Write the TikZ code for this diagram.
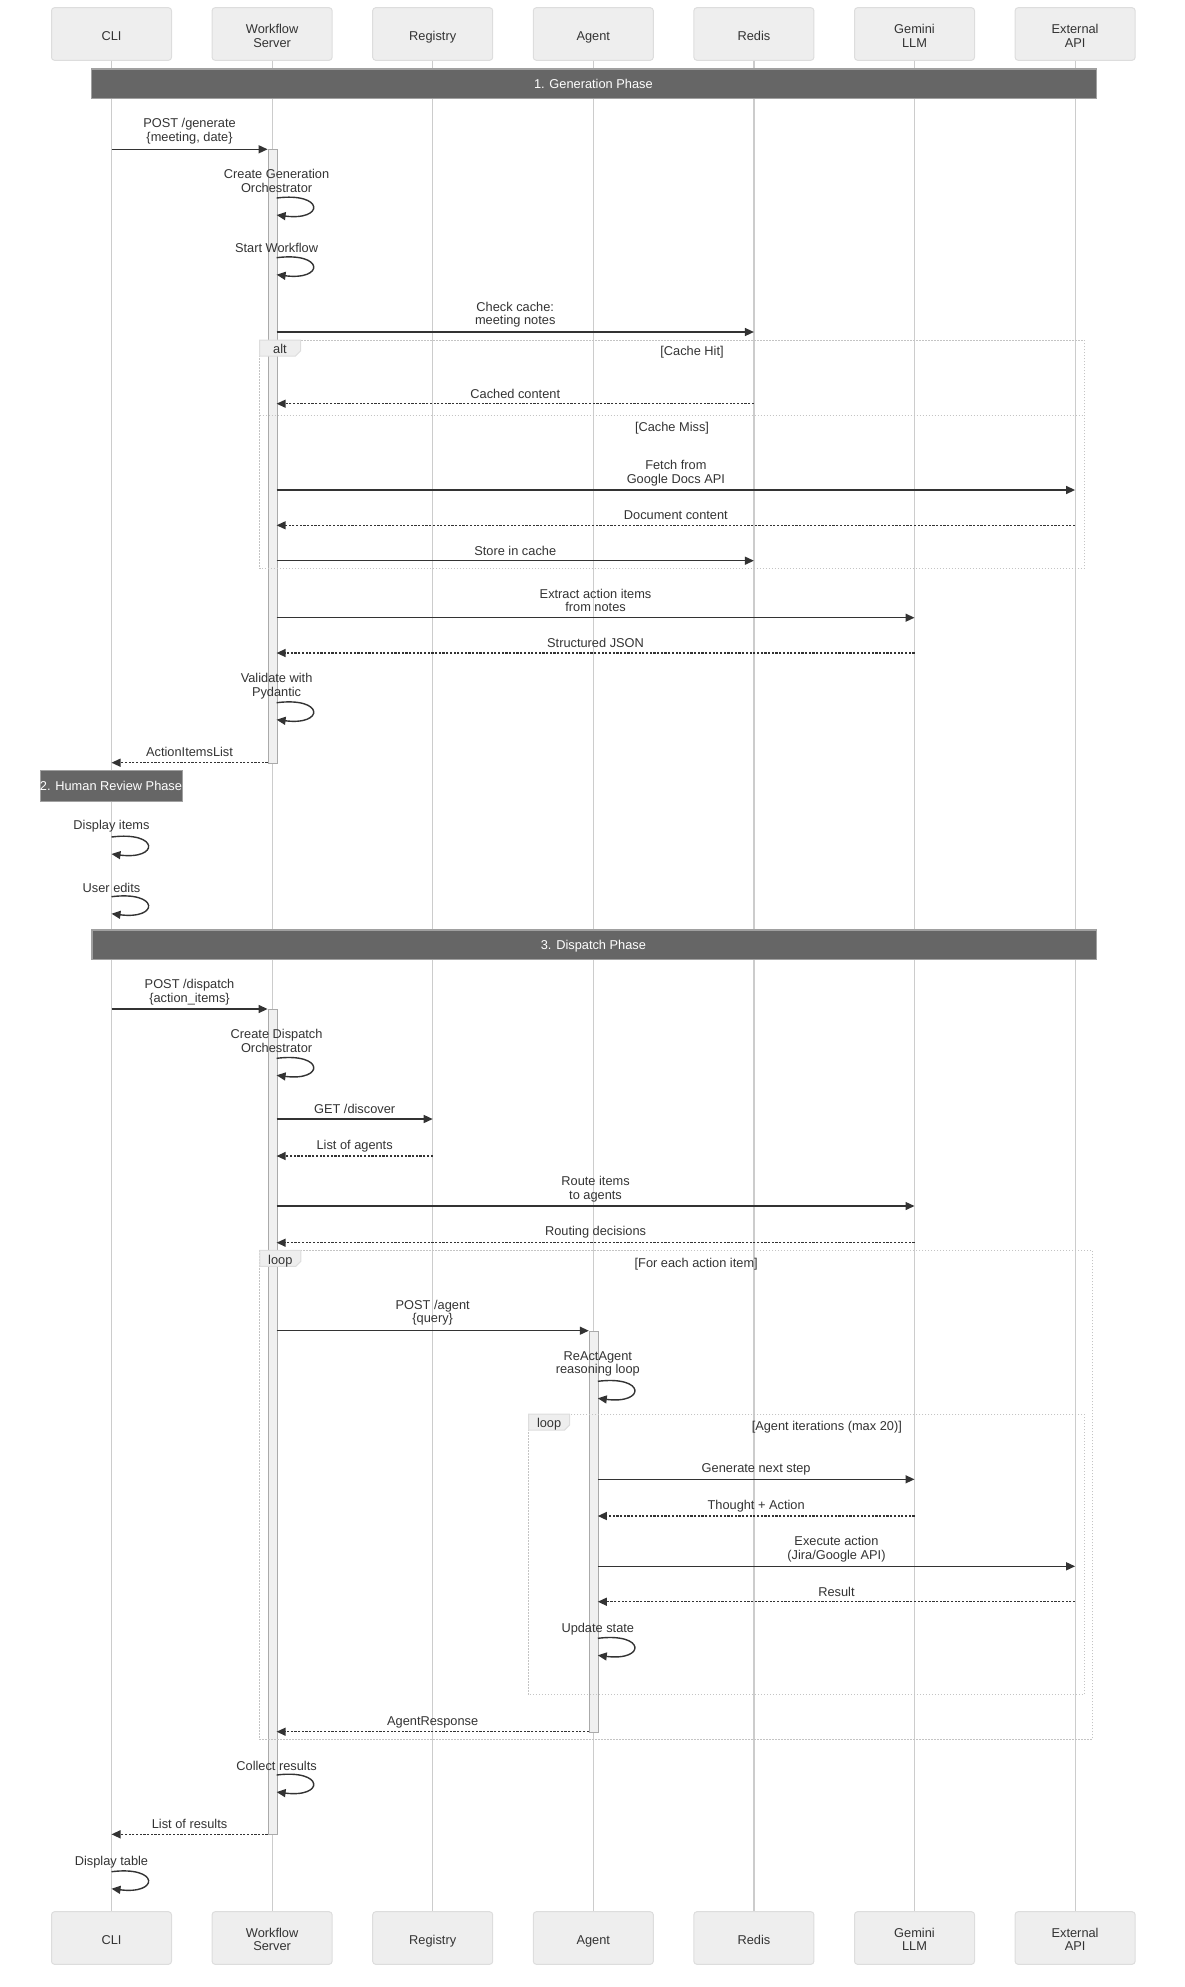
\documentclass[tikz,border=0pt]{standalone}
\usepackage{fontspec}
\setmainfont{Liberation Sans}
\usetikzlibrary{arrows.meta}
\definecolor{txt}{HTML}{333333}
\definecolor{actfill}{HTML}{EEEEEE}
\definecolor{actdraw}{HTML}{DDDDDD}
\definecolor{life}{HTML}{CCCCCC}
\definecolor{phase}{HTML}{666666}
\definecolor{phasedraw}{HTML}{A0A0A0}
\definecolor{actvfill}{HTML}{F0F0F0}
\definecolor{actvdraw}{HTML}{AAAAAA}
\definecolor{frm}{HTML}{C4C4C4}
\newcommand\lblfont{\fontsize{12.8}{13.6}\selectfont}
\tikzset{
 lbl/.style={font=\lblfont, text=txt, align=center, inner sep=0pt,
   execute at begin node=\strut, execute at end node=\strut},
 actorbox/.style={draw=actdraw, fill=actfill, line width=1pt, rounded corners=3pt,
   minimum width=120pt, minimum height=52.6pt, inner sep=0pt},
 lifeline/.style={draw=life, line width=1.2pt},
 phasebar/.style={draw=phasedraw, fill=phase, line width=1.2pt, inner sep=0pt, anchor=north west},
 phasetxt/.style={lbl, text=white},
 actv/.style={draw=actvdraw, fill=actvfill, line width=1pt, inner sep=0pt, anchor=north west, minimum width=9pt},
 req/.style={draw=txt, line width=1.4pt, -{Triangle[length=9pt,width=8pt]}},
 rep/.style={req, line width=1.3pt, dash pattern=on 2.2pt off 1.5pt},
 selfl/.style={draw=txt, line width=1.4pt, -{Triangle[length=9pt,width=8pt]}},
 frameline/.style={draw=frm, line width=1pt, dash pattern=on 1.5pt off 1.5pt},
 framelabel/.style={draw=actdraw, fill=actfill, line width=1pt},
}
% name, x1, x2, y, style, label, label y
\newcommand\Msg[7]{%
  \coordinate (#1a) at (#2,#4);
  \coordinate (#1b) at (#3,#4);
  \draw[#5] (#1a) -- (#1b);
  \node[lbl] (#1t) at ({(#2+#3)/2},{#7+2.7}) {#6};
}
% name, x, ytop, label, label y
\newcommand\Self[5]{%
  \coordinate (#1a) at (#2,{#3+1});
  \coordinate (#1b) at (#2,{#3+18});
  \draw[selfl] (#1a) .. controls +(48,-6) and +(48,6) .. (#1b);
  \node[lbl] (#1t) at (#2,{#5+2.7}) {#4};
}
% name, x1, y1, x2, y2, label, cond, condx, condy
\newcommand\Frame[9]{%
  \coordinate (#1nw) at (#2,#3);
  \coordinate (#1se) at (#4,#5);
  \draw[frameline] (#1nw) rectangle (#1se);
  \draw[framelabel] (#1nw) -- ++(41,0) -- ++(0,11) -- ++(-5,5) -- ++(-36,0) -- cycle;
  \node[lbl] (#1l) at ({#2+20.5},{#3+11}) {#6};
  \node[lbl] (#1c) at (#8,{#9+2.7}) {#7};
}
\begin{document}
\begin{tikzpicture}[x=1pt,y=-1pt]
\useasboundingbox (0,0) rectangle (1184,1987);
% actors top
\node[actorbox] (cliT) at (111.5,34) {};
\node[actorbox] (wsT)  at (272.1,34) {};
\node[actorbox] (regT) at (432.7,34) {};
\node[actorbox] (agT)  at (593.3,34) {};
\node[actorbox] (redT) at (753.9,34) {};
\node[actorbox] (gemT) at (914.5,34) {};
\node[actorbox] (extT) at (1075.1,34) {};
% actors bottom
\node[actorbox] (cliB) at (111.5,1938) {};
\node[actorbox] (wsB)  at (272.1,1938) {};
\node[actorbox] (regB) at (432.7,1938) {};
\node[actorbox] (agB)  at (593.3,1938) {};
\node[actorbox] (redB) at (753.9,1938) {};
\node[actorbox] (gemB) at (914.5,1938) {};
\node[actorbox] (extB) at (1075.1,1938) {};
% actor texts
\foreach \n/\x/\t in {cli/111.5/CLI, ws/272.1/{Workflow\\Server}, reg/432.7/Registry, ag/593.3/Agent,
  red/753.9/Redis, gem/914.5/{Gemini\\LLM}, ext/1075.1/{External\\API}}{
  \node[lbl] (\n Tt) at (\x,37.6) {\t};
  \node[lbl] (\n Bt) at (\x,1941.5) {\t};
}
% lifelines
\foreach \n in {cli,ws,reg,ag,red,gem,ext}{
  \draw[lifeline] (\n T.south) -- (\n B.north);
}
% phase bars
\node[phasebar, minimum width=1004.7pt, minimum height=29.7pt] (ph1) at (91,68.3) {};
\node[phasetxt] (ph1t) at (593.35,86) {1. Generation Phase};
\node[phasebar, minimum width=142pt, minimum height=30.7pt] (ph2) at (40,770) {};
\node[phasetxt] (ph2t) at (111,788.2) {2. Human Review Phase};
\node[phasebar, minimum width=1004.1pt, minimum height=29.7pt] (ph3) at (91.4,929.3) {};
\node[phasetxt] (ph3t) at (593.4,947) {3. Dispatch Phase};
% activations
\node[actv, minimum height=613.4pt] (act1) at (267.6,149.3) {};
\node[actv, minimum height=825.3pt] (act2) at (267.6,1009) {};
\node[actv, minimum height=401pt] (act3) at (588.8,1330.7) {};
% frames
\Frame{alt}{259.5}{340}{1084.5}{568.7}{alt}{[Cache Hit]}{692}{350}
\coordinate (sepa) at (259.5,415.3);
\coordinate (sepb) at (1084.5,415.3);
\draw[frameline] (sepa) -- (sepb);
\node[lbl] (missc) at (672,428.7) {[Cache Miss]};
\Frame{lpa}{259.8}{1250.3}{1092}{1739.7}{loop}{[For each action item]}{696.2}{1261.7}
\Frame{lpb}{528.6}{1414}{1084.3}{1694.7}{loop}{[Agent iterations (max 20)]}{826.8}{1425}
% generation phase
\Msg{m1}{111.5}{267.6}{149.3}{req}{POST /generate\\\{meeting, date\}}{128.9}
\Self{s1}{276.6}{197}{Create Generation\\Orchestrator}{180.2}
\Self{s2}{276.6}{256.7}{Start Workflow}{246.7}
\Msg{m2}{276.6}{753.9}{332}{req}{Check cache:\\meeting notes}{312.5}
\Msg{m3}{753.9}{276.6}{403.7}{rep}{Cached content}{392.7}
\Msg{m4}{276.6}{1075.1}{490}{req}{Fetch from\\Google Docs API}{471.2}
\Msg{m5}{1075.1}{276.6}{525.3}{rep}{Document content}{513.7}
\Msg{m6}{276.6}{753.9}{560.7}{req}{Store in cache}{550}
\Msg{m7}{276.6}{914.5}{617.7}{req}{Extract action items\\from notes}{599.7}
\Msg{m8}{914.5}{276.6}{653}{rep}{Structured JSON}{641.7}
\Self{s3}{276.6}{701.7}{Validate with\\Pydantic}{684.2}
\Msg{m9}{267.6}{111.5}{762.7}{rep}{ActionItemsList}{751}
% human review
\Self{s4}{111.5}{836}{Display items}{824.3}
\Self{s5}{111.5}{895.7}{User edits}{886.7}
% dispatch phase
\Msg{m10}{111.5}{267.6}{1009}{req}{POST /dispatch\\\{action\_items\}}{990.3}
\Self{s6}{276.6}{1057.3}{Create Dispatch\\Orchestrator}{1040}
\Msg{m11}{276.6}{432.7}{1119}{req}{GET /discover}{1107.7}
\Msg{m12}{432.7}{276.6}{1156}{rep}{List of agents}{1144}
\Msg{m13}{276.6}{914.5}{1206}{req}{Route items\\to agents}{1187.2}
\Msg{m14}{914.5}{276.6}{1242.7}{rep}{Routing decisions}{1229.7}
\Msg{m15}{276.6}{588.8}{1330.7}{req}{POST /agent\\\{query\}}{1310.5}
\Self{s7}{597.8}{1380.3}{ReActAgent\\reasoning loop}{1361.8}
\Msg{m16}{597.8}{914.5}{1479.3}{req}{Generate next step}{1466.7}
\Msg{m17}{914.5}{597.8}{1516}{rep}{Thought + Action}{1503.7}
\Msg{m18}{597.8}{1075.1}{1566.3}{req}{Execute action\\(Jira/Google API)}{1547.2}
\Msg{m19}{1075.1}{597.8}{1601.7}{rep}{Result}{1590.7}
\Self{s8}{597.8}{1637.3}{Update state}{1627}
\Msg{m20}{588.8}{276.6}{1731.7}{rep}{AgentResponse}{1720}
\Self{s9}{276.6}{1774}{Collect results}{1764.7}
\Msg{m21}{267.6}{111.5}{1834.3}{rep}{List of results}{1823.3}
\Self{s10}{111.5}{1870.7}{Display table}{1859.7}
\end{tikzpicture}
\end{document}
